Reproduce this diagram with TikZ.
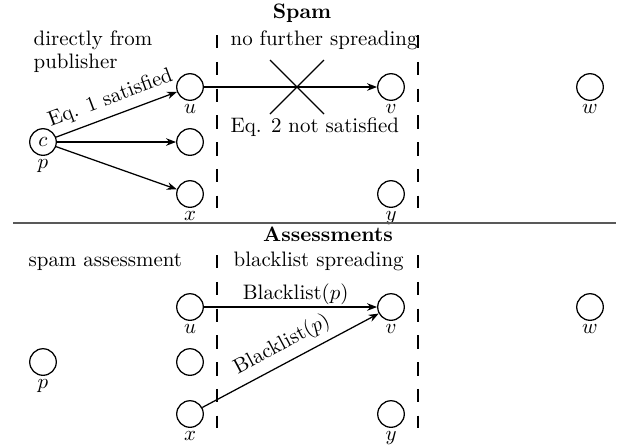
\documentclass[tikz,border=0pt]{standalone}
\usetikzlibrary{arrows.meta}
\begin{document}
\begin{tikzpicture}[x=0.478pt,y=-0.478pt,line width=0.6pt,
  vtx/.style={circle,draw,minimum size=12.7pt,inner sep=0pt},
  lbl/.style={inner sep=1.2pt},
  arr/.style={-{Stealth[length=4.8pt,width=3.6pt]}},
  sep/.style={line width=0.5pt,dash pattern=on 6.4pt off 6.4pt},
  txt/.style={anchor=base west,inner sep=0pt}]
\useasboundingbox (0,0) rectangle (622,447);
% top section
\node[vtx,label={[lbl]below:$p$}] (p1) at (43,142) {$c$};
\node[vtx,label={[lbl]below:$u$}] (u1) at (190,87) {};
\node[vtx] (m1) at (190,142) {};
\node[vtx,label={[lbl]below:$x$}] (x1) at (190,194) {};
\node[vtx,label={[lbl]below:$v$}] (v1) at (391,87) {};
\node[vtx,label={[lbl]below:$w$}] (w1) at (590,87) {};
\node[vtx,label={[lbl]below:$y$}] (y1) at (391,194) {};
\node[anchor=base,inner sep=0pt] (t1) at (302,18) {\textbf{Spam}};
\node[txt] (d1) at (33,45) {directly from};
\node[txt] (d2) at (33,68) {publisher};
\node[txt] (d3) at (230,45) {no further spreading};
\node[txt] (d4) at (230,132) {Eq. 2 not satisfied};
\draw[sep] (217,35) -- (217,208);
\draw[sep] (418,35) -- (418,208);
\draw[arr] (p1) -- node[sloped,above] {Eq. 1 satisfied} (u1);
\draw[arr] (p1) -- (m1);
\draw[arr] (p1) -- (x1);
\draw[arr] (u1) -- (v1);
\draw (270,60) -- (324,114);
\draw (270,114) -- (324,60);
% separator
\draw[black!65,line width=0.8pt] (13,223) -- (616,223);
% bottom section
\node[vtx,label={[lbl]below:$p$}] (p2) at (43,362) {};
\node[vtx,label={[lbl]below:$u$}] (u2) at (190,307) {};
\node[vtx] (m2) at (190,362) {};
\node[vtx,label={[lbl]below:$x$}] (x2) at (190,414) {};
\node[vtx,label={[lbl]below:$v$}] (v2) at (391,307) {};
\node[vtx,label={[lbl]below:$w$}] (w2) at (590,307) {};
\node[vtx,label={[lbl]below:$y$}] (y2) at (391,414) {};
\node[anchor=base,inner sep=0pt] (t2) at (328,241) {\textbf{Assessments}};
\node[txt] (e1) at (28,266) {spam assessment};
\node[txt] (e2) at (233,266) {blacklist spreading};
\draw[sep] (217,255) -- (217,428);
\draw[sep] (418,255) -- (418,428);
\draw[arr] (u2) -- node[above,inner sep=1pt,pos=0.53] {Blacklist$(p)$} (v2);
\draw[arr] (x2) -- node[sloped,above] {Blacklist$(p)$} (v2);
\end{tikzpicture}
\end{document}
